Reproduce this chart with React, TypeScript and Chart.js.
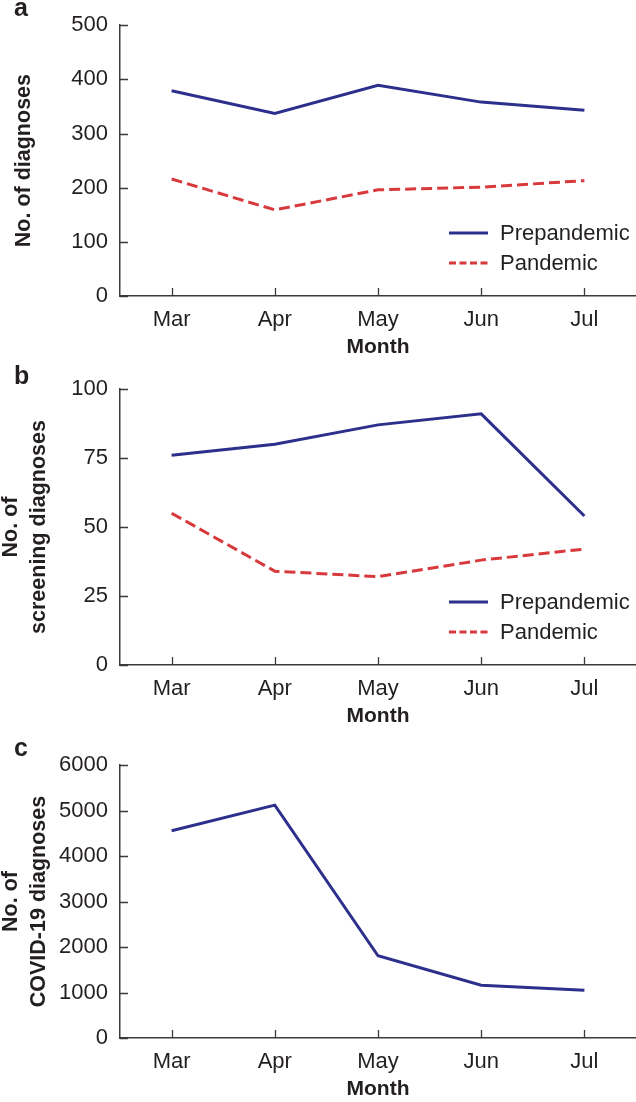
import React, { useEffect, useRef } from "react";
import { Chart, registerables } from "chart.js";

Chart.register(...registerables);

const months = ["Mar", "Apr", "May", "Jun", "Jul"];

const aPrepandemic = [379, 337, 389, 358, 343];
const aPandemic = [216, 159, 196, 201, 213];

const bPrepandemic = [76, 80, 87, 91, 54];
const bPandemic = [55, 34, 32, 38, 42];

const cCovid = [4554, 5118, 1808, 1158, 1050];

const BLUE = "rgb(44,48,140)";
const RED = "rgb(216,57,60)";
const TEXT = "#231f20";
const AXIS = "#3a3a3a";
const FONT = '"Liberation Sans", Arial, Helvetica, sans-serif';

const inwardTicks = {
  id: "inwardTicks",
  afterDatasetsDraw(chart: any) {
    const ctx = chart.ctx;
    const x = chart.scales.x;
    const y = chart.scales.y;
    ctx.save();
    ctx.strokeStyle = AXIS;
    ctx.lineWidth = 1.3;
    ctx.beginPath();
    for (let i = 0; i < x.ticks.length; i++) {
      const px = Math.round(x.getPixelForTick(i)) + 0.5;
      ctx.moveTo(px, x.top);
      ctx.lineTo(px, x.top - 8);
    }
    for (let i = 0; i < y.ticks.length; i++) {
      const py = Math.round(y.getPixelForTick(i)) + 0.5;
      ctx.moveTo(y.right, py);
      ctx.lineTo(y.right + 8, py);
    }
    ctx.stroke();
    ctx.restore();
  },
};

const panelExtras = {
  id: "panelExtras",
  afterDraw(chart: any, _args: any, opts: any) {
    const ctx = chart.ctx;
    ctx.save();
    if (opts.letter) {
      ctx.fillStyle = TEXT;
      ctx.font = `bold 25px ${FONT}`;
      ctx.textBaseline = "alphabetic";
      ctx.textAlign = "left";
      ctx.fillText(opts.letter, opts.letterX, opts.letterY);
    }
    if (opts.legend) {
      const area = chart.chartArea;
      const sets = chart.data.datasets;
      sets.forEach((ds: any, i: number) => {
        const yy = area.bottom - 63 + i * 30;
        ctx.strokeStyle = ds.borderColor;
        ctx.lineWidth = 3;
        ctx.setLineDash(ds.borderDash ? [7, 3.5] : []);
        ctx.beginPath();
        ctx.moveTo(area.right - 187, yy);
        ctx.lineTo(area.right - 148, yy);
        ctx.stroke();
        ctx.setLineDash([]);
        ctx.fillStyle = TEXT;
        ctx.font = `22px ${FONT}`;
        ctx.textAlign = "left";
        ctx.textBaseline = "middle";
        ctx.fillText(ds.label, area.right - 136, yy + 1);
      });
    }
    ctx.restore();
  },
};

function makeConfig(
  datasets: any[],
  yMax: number,
  yStep: number,
  yTitle: string | string[],
  yTitlePad: number,
  padTop: number,
  letter: string,
  letterY: number,
  legend: boolean
) {
  return {
    type: "line",
    data: { labels: months, datasets },
    plugins: [inwardTicks, panelExtras],
    options: {
      responsive: false,
      animation: false,
      layout: { padding: { top: padTop, right: 0, left: 0, bottom: 0 } },
      plugins: {
        legend: { display: false },
        tooltip: { enabled: false },
        panelExtras: { letter, letterX: 14, letterY, legend },
      },
      elements: { point: { radius: 0 } },
      scales: {
        x: {
          type: "category",
          offset: true,
          grid: { display: true, drawOnChartArea: false, drawTicks: false },
          border: { display: true, color: AXIS, width: 1.5 },
          ticks: {
            color: TEXT,
            font: { size: 22, family: FONT, lineHeight: 1.2 },
            padding: 11,
            autoSkip: false,
            maxRotation: 0,
          },
          title: {
            display: true,
            text: "Month",
            color: TEXT,
            font: { size: 21, family: FONT, weight: "bold", lineHeight: 1.2 },
            padding: 0,
          },
          afterFit(scale: any) {
            scale.height = 64;
          },
        },
        y: {
          min: 0,
          max: yMax,
          grid: { display: true, drawOnChartArea: false, drawTicks: false },
          border: { display: true, color: AXIS, width: 1.5 },
          ticks: {
            stepSize: yStep,
            color: TEXT,
            font: { size: 22, family: FONT },
            padding: 12,
            callback: (v: any) => String(v),
          },
          title: {
            display: true,
            text: yTitle,
            color: TEXT,
            font: { size: 21.5, family: FONT, weight: "bold", lineHeight: 1.3 },
            padding: { top: yTitlePad, bottom: 0 },
          },
          afterFit(scale: any) {
            scale.width = 120;
          },
        },
      },
    },
  } as any;
}

function Panel({ config, height }: { config: any; height: number }) {
  const ref = useRef<HTMLCanvasElement>(null);
  useEffect(() => {
    if (!ref.current) return;
    const chart = new Chart(ref.current, config);
    return () => chart.destroy();
  }, [config]);
  return (
    <canvas
      ref={ref}
      width={636}
      height={height}
      style={{ display: "block", width: 636, height }}
    />
  );
}

const prepandemicStyle = {
  borderColor: BLUE,
  backgroundColor: BLUE,
  borderWidth: 3,
  tension: 0,
};
const pandemicStyle = {
  borderColor: RED,
  backgroundColor: RED,
  borderWidth: 3,
  borderDash: [11, 5],
  tension: 0,
};

const configA = makeConfig(
  [
    { label: "Prepandemic", data: aPrepandemic, ...prepandemicStyle },
    { label: "Pandemic", data: aPandemic, ...pandemicStyle },
  ],
  500,
  100,
  "No. of diagnoses",
  10,
  20,
  "a",
  16,
  true
);

const configB = makeConfig(
  [
    { label: "Prepandemic", data: bPrepandemic, ...prepandemicStyle },
    { label: "Pandemic", data: bPandemic, ...pandemicStyle },
  ],
  100,
  25,
  ["No. of", "screening diagnoses"],
  -3,
  29,
  "b",
  24,
  true
);

const configC = makeConfig(
  [{ label: "COVID-19", data: cCovid, ...prepandemicStyle }],
  6000,
  1000,
  ["No. of", "COVID-19 diagnoses"],
  -3,
  36,
  "c",
  27,
  false
);

export default function App() {
  return (
    <div style={{ position: "absolute", left: 0, top: 0, width: 636, background: "#fff" }}>
      <Panel config={configA} height={360} />
      <Panel config={configB} height={369} />
      <Panel config={configC} height={373} />
    </div>
  );
}
